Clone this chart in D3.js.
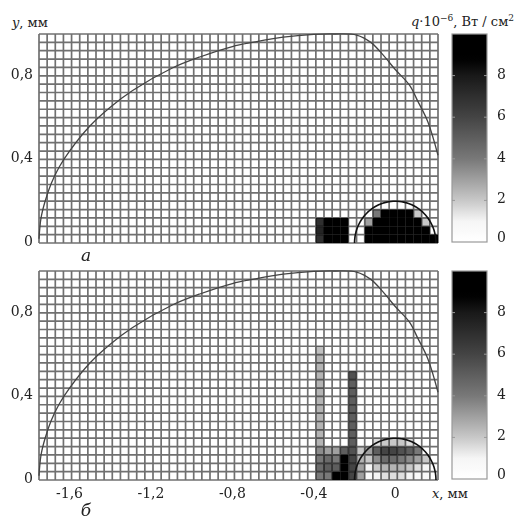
<!DOCTYPE html>
<html>
<head>
<meta charset="utf-8">
<script src="https://cdn.jsdelivr.net/npm/d3@7.9.0/dist/d3.min.js"></script>
<style>
  body { margin: 0; background: #fff; }
  svg { display: block; font-family: 'DejaVu Serif', 'Liberation Serif', serif; }
</style>
</head>
<body>
<svg id="chart" width="514" height="521"></svg>
<script>
// ====== Data ======
const xTicks = [-1.6, -1.2, -0.8, -0.4, 0];
const yTicks = [0, 0.4, 0.8];
const cbTicks = [0, 2, 4, 6, 8];
const xRange = [-1.75, 0.21];
const yRange = [0, 1.0];
const qRange = [0, 10];
const cellSize = 0.04;
const poolRadius = 0.2;

// outer boundary curve, mm
const boundaryX = [-1.75, -1.74, -1.72, -1.69, -1.65, -1.60, -1.50, -1.40, -1.29, -1.10, -0.96, -0.80, -0.70, -0.55, -0.40, -0.30, -0.19, -0.12, -0.06, 0.0, 0.07, 0.11, 0.16, 0.21];
const boundaryY = [0.02, 0.12, 0.20, 0.285, 0.365, 0.44, 0.56, 0.65, 0.73, 0.835, 0.89, 0.94, 0.96, 0.985, 0.998, 1.0, 0.995, 0.96, 0.90, 0.83, 0.755, 0.68, 0.58, 0.42];

// heat flux cells: column left edge, q values from the bottom row up
const colsA = [-0.39, -0.35, -0.31, -0.27, -0.15, -0.11, -0.07, -0.03, 0.01, 0.05, 0.09, 0.13, 0.17];
const qA = [
  [7, 7.5, 7],
  [10, 10, 10],
  [10, 10, 10],
  [10, 10, 9.5],
  [9, 9.5, 3],
  [10, 10, 10, 4],
  [10, 10, 10, 10],
  [10, 10, 10, 10],
  [10, 10, 10, 10],
  [10, 10, 10, 10],
  [10, 10, 10, 2],
  [10, 10, 2],
  [9]
];

const colsB = [-0.39, -0.35, -0.31, -0.27, -0.23, -0.19, -0.15, -0.11, -0.07, -0.03, 0.01, 0.05, 0.09, 0.13];
const qB = [
  [4, 4.5, 4, 3.5, 2.5, 2.5, 2.5, 2.5, 2.5, 2.5, 2.5, 2.5, 2.5, 2.5, 2.5, 2.2],
  [4, 5, 4.5, 3],
  [10, 5, 4, 3],
  [10, 10, 10, 5],
  [6, 6, 6, 5.5, 5, 5, 5, 5, 5, 5, 5, 5, 5.5],
  [3, 3, 2.5, 2],
  [0.5, 1, 2, 3],
  [1, 2, 3.5, 5, 1.5],
  [1.5, 2.5, 4.5, 6, 2],
  [1.5, 2.5, 4.5, 6, 2],
  [1.5, 2.5, 4, 5.5, 2],
  [1, 2, 3.5, 5, 1.5],
  [0.5, 1.5, 3, 4],
  [0.5, 1, 2]
];

// ====== Setup ======
const svg = d3.select('#chart');
const x = d3.scaleLinear().domain(xRange).range([39, 438]);
const color = d3.scaleLinear()
  .domain([0, 1, 2, 4, 6, 8, 8.8, 10])
  .range([255, 245, 200, 120, 68, 25, 0, 0].map((g) => d3.rgb(g, g, g)));

const nCols = Math.round((xRange[1] - xRange[0]) / cellSize);
const nRows = Math.round((yRange[1] - yRange[0]) / cellSize);
const gridX = d3.range(nCols + 1).map((k) => xRange[1] - k * cellSize);
const gridY = d3.range(nRows + 1).map((r) => r * cellSize);

// gradient for the colour bars
const grad = svg.append('defs').append('linearGradient')
  .attr('id', 'qgrad').attr('x1', 0).attr('y1', 1).attr('x2', 0).attr('y2', 0);
d3.range(0, 10.01, 0.25).forEach((v) => {
  grad.append('stop').attr('offset', v / 10).attr('stop-color', color(v));
});

// ====== One panel ======
function drawPanel(top, cols, q, label, showX) {
  const y = d3.scaleLinear().domain(yRange).range([top + 209, top]);
  const g = svg.append('g').style('isolation', 'isolate');

  // cells
  cols.forEach((cx, i) => {
    q[i].forEach((v, r) => {
      g.append('rect')
        .attr('x', x(cx))
        .attr('y', y((r + 1) * cellSize))
        .attr('width', x(cx + cellSize) - x(cx))
        .attr('height', y(r * cellSize) - y((r + 1) * cellSize))
        .attr('fill', color(v));
    });
  });

  // grid, multiplied so it vanishes on black cells
  const grid = g.append('g').style('mix-blend-mode', 'multiply');
  grid.selectAll('.vx').data(gridX).join('line')
    .attr('x1', (d) => x(d)).attr('x2', (d) => x(d))
    .attr('y1', y(yRange[0])).attr('y2', y(yRange[1]))
    .attr('stroke', '#707070').attr('stroke-width', 1.7);
  grid.selectAll('.hy').data(gridY).join('line')
    .attr('x1', x(xRange[0])).attr('x2', x(xRange[1]))
    .attr('y1', (d) => y(d)).attr('y2', (d) => y(d))
    .attr('stroke', '#707070').attr('stroke-width', 1.7);

  // boundary and pool semicircle
  const line = d3.line().x((d) => x(d[0])).y((d) => y(d[1])).curve(d3.curveCatmullRom);
  g.append('path')
    .attr('d', line(d3.zip(boundaryX, boundaryY)))
    .attr('fill', 'none').attr('stroke', '#444').attr('stroke-width', 1.3);
  const arcPts = d3.range(0, 181, 3).map((a) => [poolRadius * Math.cos(a * Math.PI / 180), poolRadius * Math.sin(a * Math.PI / 180)]);
  g.append('path')
    .attr('d', d3.line().x((d) => x(d[0])).y((d) => y(d[1]))(arcPts))
    .attr('fill', 'none').attr('stroke', '#111').attr('stroke-width', 1.6);

  // y tick labels
  g.selectAll('.yl').data(yTicks).join('text')
    .attr('x', 33).attr('y', (d) => y(d) - 1)
    .attr('text-anchor', 'end').attr('dominant-baseline', 'middle')
    .attr('font-size', 14).attr('fill', '#222')
    .text((d) => d === 0 ? '0' : d.toFixed(1).replace('.', ','));

  if (showX) {
    g.selectAll('.xl').data(xTicks).join('text')
      .attr('x', (d) => x(d)).attr('y', top + 227)
      .attr('text-anchor', 'middle')
      .attr('font-size', 14).attr('fill', '#222')
      .text((d) => d === 0 ? '0' : d.toFixed(1).replace('.', ','));
  }

  g.append('text').attr('x', 86).attr('y', label === 'а' ? top + 227 : top + 245)
    .attr('text-anchor', 'middle').attr('font-style', 'italic')
    .attr('font-size', 17).attr('fill', '#222').text(label);

  // colour bar
  const cy = d3.scaleLinear().domain(qRange).range([top + 208, top]);
  g.append('rect')
    .attr('x', 452).attr('y', cy(qRange[1]))
    .attr('width', 35).attr('height', cy(qRange[0]) - cy(qRange[1]))
    .attr('fill', 'url(#qgrad)').attr('stroke', '#999').attr('stroke-width', 1.2);
  cbTicks.slice(1).forEach((t) => {
    g.append('line').attr('x1', 452).attr('x2', 455).attr('y1', cy(t)).attr('y2', cy(t)).attr('stroke', '#999');
    g.append('line').attr('x1', 484).attr('x2', 487).attr('y1', cy(t)).attr('y2', cy(t)).attr('stroke', '#999');
  });
  g.selectAll('.cl').data(cbTicks).join('text')
    .attr('x', 497).attr('y', (d) => cy(d) - 1 - (d === 0 ? 3 : 0))
    .attr('dominant-baseline', 'middle')
    .attr('font-size', 14).attr('fill', '#222')
    .text((d) => d);
}

drawPanel(34, colsA, qA, 'а', false);
drawPanel(271, colsB, qB, 'б', true);

// ====== Axis titles ======
const yt = svg.append('text').attr('x', 12).attr('y', 27).attr('font-size', 13).attr('fill', '#222');
yt.append('tspan').attr('font-style', 'italic').text('y');
yt.append('tspan').text(', мм');

const xt = svg.append('text').attr('x', 432).attr('y', 498).attr('font-size', 13).attr('fill', '#222');
xt.append('tspan').attr('font-style', 'italic').text('x');
xt.append('tspan').text(', мм');

const qt = svg.append('text').attr('x', 514).attr('y', 26).attr('text-anchor', 'end').attr('font-size', 13).attr('fill', '#222');
qt.append('tspan').attr('font-style', 'italic').text('q');
qt.append('tspan').text('·10');
qt.append('tspan').attr('dy', -5).attr('font-size', 9).text('−6');
qt.append('tspan').attr('dy', 5).text(', Вт / см');
qt.append('tspan').attr('dy', -5).attr('font-size', 9).text('2');
</script>
</body>
</html>
